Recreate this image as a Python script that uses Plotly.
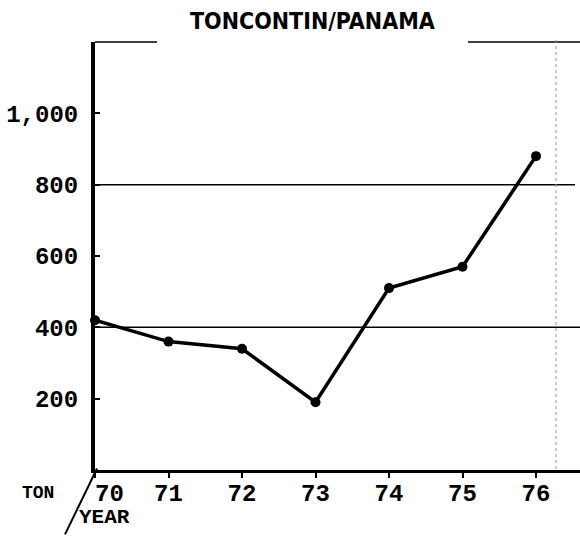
import plotly.graph_objects as go

years = [70, 71, 72, 73, 74, 75, 76]
tons = [420, 360, 340, 190, 510, 570, 880]
x_tick_labels = ["\u00a0\u00a070", "71", "72", "73", "74", "75", "76"]
y_tick_vals = [200, 400, 600, 800, 1000]
y_tick_labels = ["200", "400", "600", "800", "1,000"]
grid_vals = [400, 800]
title_text = "TONCONTIN/PANAMA"

L, R, T, B = 95, 0, 42, 71.5
W, H = 580, 542
pw, ph = W - L - R, H - T - B

def px(xp):
    return (xp - L) / pw

def py(yp):
    return (H - B - yp) / ph

mono = "Liberation Mono, Courier New, monospace"

fig = go.Figure()
fig.add_trace(go.Scatter(
    x=years, y=tons, mode="lines+markers",
    line=dict(color="black", width=3.5),
    marker=dict(color="black", size=10),
    cliponaxis=False, hoverinfo="skip",
))

shapes = []
for g in grid_vals:
    shapes.append(dict(type="line", xref="paper", yref="y", x0=0, x1=px(575 if g == 800 else 580),
                       y0=g, y1=g, line=dict(color="black", width=1.5), layer="below"))
# top frame line broken by the title
shapes.append(dict(type="line", xref="paper", yref="paper", x0=0, x1=px(157), y0=1, y1=1,
                   line=dict(color="black", width=1.5)))
shapes.append(dict(type="line", xref="paper", yref="paper", x0=px(468), x1=1, y0=1, y1=1,
                   line=dict(color="black", width=1.5)))
# faint dotted right border
shapes.append(dict(type="line", xref="paper", yref="paper", x0=px(556), x1=px(556), y0=py(40), y1=py(470),
                   line=dict(color="#999999", width=1, dash="dot")))
# diagonal slash between TON and YEAR
shapes.append(dict(type="line", xref="paper", yref="paper", x0=px(97), x1=px(65), y0=py(469), y1=py(535),
                   line=dict(color="black", width=2)))

annotations = [
    dict(text="<b>" + title_text + "</b>", xref="paper", yref="paper", x=px(312), y=py(21),
         showarrow=False, xanchor="center", yanchor="middle",
         font=dict(family="DejaVu Sans Condensed, DejaVu Sans, sans-serif", size=23, color="black")),
    dict(text="<b>TON</b>", xref="paper", yref="paper", x=px(38), y=py(494), showarrow=False,
         xanchor="center", yanchor="middle", font=dict(family=mono, size=18, color="black")),
    dict(text="<b>YEAR</b>", xref="paper", yref="paper", x=px(104), y=py(518), showarrow=False,
         xanchor="center", yanchor="middle", font=dict(family=mono, size=21, color="black")),
]

fig.update_layout(
    width=W, height=H,
    margin=dict(l=L, r=R, t=T, b=B),
    paper_bgcolor="white", plot_bgcolor="white",
    showlegend=False,
    shapes=shapes, annotations=annotations,
    xaxis=dict(range=[70, 70 + pw / 73.5], tickvals=years, ticktext=x_tick_labels,
               showgrid=False, zeroline=False, showline=True, linecolor="black", linewidth=3,
               ticks="outside", ticklen=5, tickwidth=2, tickcolor="black",
               ticklabelstandoff=-6,
               tickfont=dict(family=mono, size=24, color="black", weight="bold")),
    yaxis=dict(range=[0, 1200], tickvals=y_tick_vals, ticktext=y_tick_labels,
               showgrid=False, zeroline=False, showline=True, linecolor="black", linewidth=4,
               ticks="inside", ticklen=5, tickwidth=2, tickcolor="black",
               ticklabelstandoff=8,
               tickfont=dict(family=mono, size=24, color="black", weight="bold")),
)

fig.write_html("out.html", config={"displayModeBar": False},
               post_script="document.body.style.margin='0';document.body.style.overflow='hidden';")
